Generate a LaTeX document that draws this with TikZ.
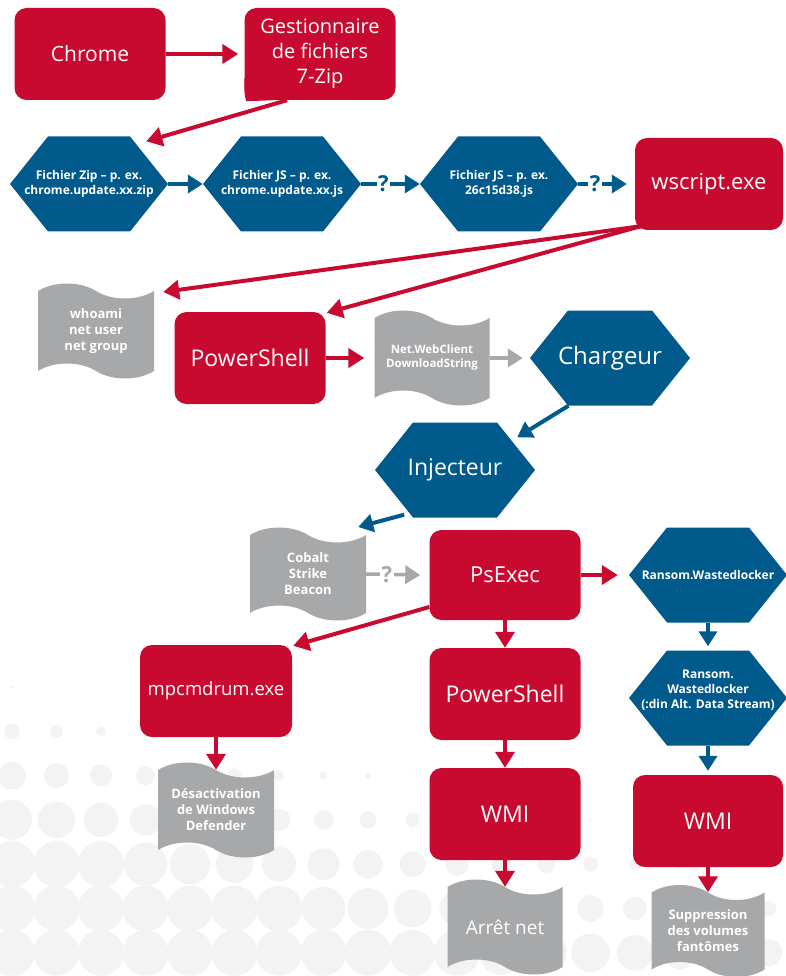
\documentclass[tikz,border=0pt]{standalone}
\usepackage{fontspec}
\setmainfont{Open Sans}
\usetikzlibrary{arrows.meta,shapes.symbols}
\definecolor{kred}{HTML}{C90A30}
\definecolor{kblue}{HTML}{005B8C}
\definecolor{kgray}{HTML}{A7A8AA}
\definecolor{kdot}{HTML}{F3F3F3}

\begin{document}
\begin{tikzpicture}[
            x=1pt, y=-1pt,
            redbox/.style={rectangle, rounded corners=12pt, fill=kred, text=white, align=center,
                minimum width=151pt, minimum height=92pt, inner sep=2pt, font=\fontsize{21}{25}\selectfont},
            bluehex/.style={rectangle, fill=white, text=white, align=center,
                minimum width=158pt, minimum height=95pt, inner sep=0pt,
                font=\bfseries\fontsize{12}{15}\selectfont,
                path picture={
                    \fill[kblue] (path picture bounding box.west)
                        -- ([xshift=38pt]path picture bounding box.north west)
                        -- ([xshift=-38pt]path picture bounding box.north east)
                        -- (path picture bounding box.east)
                        -- ([xshift=-38pt]path picture bounding box.south east)
                        -- ([xshift=38pt]path picture bounding box.south west) -- cycle;
                }},
            graydoc/.style={tape, tape bend top=out and in, tape bend bottom=out and in,
                tape bend height=15pt, fill=kgray, text=white, align=center, minimum width=116pt,
                minimum height=95pt, inner sep=0pt, font=\bfseries\fontsize{13}{16}\selectfont},
            redline/.style={draw=kred, line width=4pt, -{Triangle[length=16pt,width=19pt]}},
            blueline/.style={draw=kblue, line width=4pt, -{Triangle[length=15pt,width=18pt]}},
            grayline/.style={draw=kgray, line width=4pt, -{Triangle[length=15pt,width=18pt]}},
            qmark/.style={fill=white, inner sep=1.5pt, font=\bfseries\fontsize{22}{22}\selectfont}]

            \useasboundingbox (0,0) rectangle (786,976);

            % dots in the background
            \foreach \i in {0,...,17}{
                \foreach \j in {0,...,6}{
                    \pgfmathsetmacro\r{min(23, 0.135*(44.3*\j-45)+8-0.032*44.5*\i)}
                    \ifdim\r pt>0.6pt
                        \fill[kdot] (12+44.5*\i, 687+44.3*\j) circle (\r pt);
                    \fi
                }
            }

            % top row
            \node[redbox] (chrome) at (90,54) {Chrome};
            \node[redbox, font=\fontsize{20}{25}\selectfont] (gest) at (320,54) {Gestionnaire\\de fichiers\\7-Zip};
            \fill[kred] ([yshift=22pt]gest.south west) .. controls ([yshift=6pt]gest.south west) .. ([xshift=2pt,yshift=-1pt]gest.south west)
                -- ([xshift=30pt]gest.south west) -- cycle;

            \node[bluehex] (zip) at (89,184) {Fichier Zip -- p. ex.\\chrome.update.xx.zip};
            \node[bluehex] (js1) at (282,184) {Fichier JS -- p. ex.\\chrome.update.xx.js};
            \node[bluehex] (js2) at (499,184) {Fichier JS -- p. ex.\\26c15d38.js};
            \node[redbox, minimum width=148pt, font=\fontsize{22}{26}\selectfont] (wscript) at (709,184) {wscript.exe};

            % powershell row
            \node[graydoc] (whoami) at (96,331) {whoami\\net user\\net group};
            \node[redbox, font=\fontsize{23}{26}\selectfont] (ps1) at (250,358) {PowerShell};
            \node[graydoc, minimum width=115pt, font=\bfseries\fontsize{11.5}{14}\selectfont] (net) at (432,358) {Net.WebClient\\DownloadString};
            \node[bluehex, minimum width=160pt, font=\fontsize{24}{26}\selectfont] (chargeur) at (610,358) {Chargeur};
            \node[bluehex, minimum width=160pt, font=\fontsize{23}{26}\selectfont] (injecteur) at (455,470) {Injecteur};

            % psexec row
            \node[graydoc, minimum height=93pt] (cobalt) at (308,574) {Cobalt\\Strike\\Beacon};
            \node[redbox, minimum height=90pt, font=\fontsize{22}{26}\selectfont] (psexec) at (505,575) {PsExec};
            \node[bluehex] (ransomA) at (708,575) {Ransom.Wastedlocker};
            \node[redbox, minimum width=152pt, font=\fontsize{18.5}{22}\selectfont] (mpcmd) at (216,691) {mpcmdrum.exe};
            \node[redbox, font=\fontsize{23}{26}\selectfont] (ps2) at (505,694) {PowerShell};
            \node[bluehex] (ransomB) at (708,698) {Ransom.\\Wastedlocker\\(:din Alt. Data Stream)\\[2pt]\mbox{}};

            % bottom
            \node[graydoc] (desact) at (216,810) {Désactivation\\de Windows\\Defender};
            \node[redbox, font=\fontsize{23}{26}\selectfont] (wmiA) at (505,814) {WMI};
            \node[redbox, minimum width=150pt, font=\fontsize{23}{26}\selectfont] (wmiB) at (708,821) {WMI};
            \node[graydoc, minimum width=115pt, font=\fontsize{19}{22}\selectfont] (arret) at (505,927) {Arrêt net};
            \node[graydoc, minimum width=113pt, minimum height=92pt, font=\bfseries\fontsize{13}{16}\selectfont] (suppr) at (708,931) {Suppression\\des volumes\\fantômes};

            % connectors
            \draw[redline] (chrome.east) -- ([xshift=-6pt]gest.west);
            \draw[redline] ([xshift=-33pt]gest.south) -- ([xshift=-6pt,yshift=-5pt]zip.37);
            \draw[blueline] (zip.east) -- (js1.west);
            \draw[blueline, line width=3.5pt] (js1.east) -- node[qmark, text=kblue, pos=0.38] {?} (js2.west);
            \draw[blueline, line width=3.5pt] (js2.east) -- node[qmark, text=kblue, pos=0.35] {?} ([xshift=-8pt]wscript.west);
            \draw[redline] ([xshift=6pt,yshift=4pt]wscript.south west) -- ([xshift=9pt,yshift=39pt]whoami.east);
            \draw[redline] ([xshift=6pt,yshift=4pt]wscript.south west) -- ([xshift=1pt,yshift=-1pt]ps1.north east);
            \draw[redline] (ps1.east) -- ([xshift=-10pt]net.west);
            \draw[grayline] (net.east) -- ([xshift=-7pt]chargeur.west);
            \draw[blueline] (chargeur.229) -- ([xshift=-18pt,yshift=-15pt]injecteur.north east);
            \draw[blueline] ([xshift=4pt,yshift=3pt]injecteur.221) -- ([xshift=-8pt,yshift=47pt]cobalt.east);
            \draw[grayline, line width=3.5pt] (cobalt.east) -- node[qmark, text=kgray, pos=0.38] {?} ([xshift=-9pt]psexec.west);
            \draw[redline] (psexec.east) -- ([xshift=-11pt]ransomA.west);
            \draw[redline] ([yshift=-32pt]psexec.west) -- ([xshift=1pt,yshift=-1pt]mpcmd.north east);

            \foreach \a/\b in {psexec/ps2, ps2/wmiA, wmiA/arret, mpcmd/desact, wmiB/suppr}{
                \draw[redline] (\a.south) -- (\b.north);
            }
            \foreach \a/\b in {ransomA/ransomB, ransomB/wmiB}{
                \draw[blueline] (\a.south) -- ([yshift=4pt]\b.north);
            }
        \end{tikzpicture}
\end{document}
